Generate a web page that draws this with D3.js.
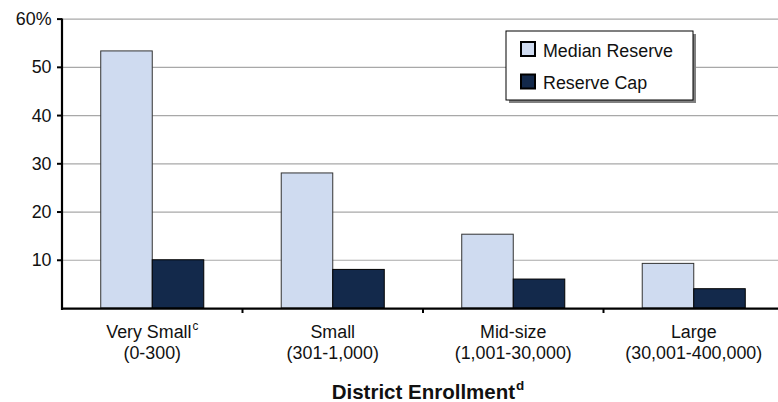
<!DOCTYPE html>
<html>
<head>
<meta charset="utf-8">
<script src="https://cdn.jsdelivr.net/npm/d3@7"></script>
<style>
  html, body { margin: 0; padding: 0; background: #fff; }
  svg { display: block; font-family: "Liberation Sans", Arial, Helvetica, sans-serif; }
</style>
</head>
<body>
<svg id="chart" width="778" height="402"></svg>
<script>
// Enrollment groups (two-line labels, optional superscript note on line 1)
const categories = ["Very Small", "Small", "Mid-size", "Large"];
const categoryNotes = ["c", "", "", ""];
const categoryRanges = ["(0-300)", "(301-1,000)", "(1,001-30,000)", "(30,001-400,000)"];

const seriesNames = ["Median Reserve", "Reserve Cap"];
const medianReserve = [53.3, 28.0, 15.3, 9.25];
const reserveCap = [10, 8, 6, 4];

const yTicks = [10, 20, 30, 40, 50, 60];
const xTitle = "District Enrollment";
const xTitleNote = "d";

const colors = { "Median Reserve": "#cfdbf0", "Reserve Cap": "#13294b" };

const svg = d3.select("#chart");
const W = 778;
const FS = 19;          // label font size
const SQUEEZE = 0.94;   // slightly narrow glyphs

const x = d3.scaleBand().domain(categories).range([62, 784]).paddingInner(0).paddingOuter(0);
const xs = d3.scaleBand().domain(seriesNames).range([0, x.bandwidth()]).paddingInner(0).paddingOuter(0.752);
const y = d3.scaleLinear().domain([0, 60]).range([308, 18.6]);

const rows = categories.map((c, i) => ({
  cat: c,
  values: [
    { name: "Median Reserve", v: medianReserve[i] },
    { name: "Reserve Cap", v: reserveCap[i] }
  ]
}));

// horizontal gridlines
svg.append("g")
  .attr("transform", "translate(62,0)")
  .call(d3.axisLeft(y).tickValues(yTicks).tickSize(-(W - 62)).tickFormat(""))
  .call(g => g.select(".domain").remove())
  .call(g => g.selectAll(".tick line").attr("stroke", "#a8a8a8").attr("stroke-width", 1.2));

// bars
const groups = svg.append("g").selectAll("g").data(rows).join("g")
  .attr("transform", d => `translate(${x(d.cat)},0)`);
groups.selectAll("rect").data(d => d.values).join("rect")
  .attr("x", d => xs(d.name))
  .attr("y", d => y(d.v))
  .attr("width", xs.bandwidth())
  .attr("height", d => y(0) - y(d.v))
  .attr("fill", d => colors[d.name])
  .attr("stroke", d => d.name === "Reserve Cap" ? "#000" : "#333")
  .attr("stroke-width", 1);

// y axis
const yAxis = svg.append("g")
  .attr("transform", "translate(62,0)")
  .call(d3.axisLeft(y).tickValues(yTicks).tickSize(5).tickPadding(6)
    .tickFormat(d => d === 60 ? "60%" : d));
yAxis.select(".domain").attr("stroke", "#000").attr("stroke-width", 2.2)
  .attr("d", `M0,${y(60)}V${y(0) + 2}`);
yAxis.selectAll(".tick line").attr("stroke", "#000").attr("stroke-width", 2);
yAxis.selectAll(".tick text").attr("font-size", FS).attr("fill", "#111")
  .attr("font-family", "'Liberation Sans', Arial, sans-serif")
  .attr("x", null)
  .attr("transform", `translate(-10.5,0) scale(${SQUEEZE},1)`);

// x axis line and group boundary ticks
svg.append("line")
  .attr("x1", 61).attr("x2", W).attr("y1", y(0) + 0.6).attr("y2", y(0) + 0.6)
  .attr("stroke", "#000").attr("stroke-width", 2.2);
svg.append("g").selectAll("line").data(categories.slice(1)).join("line")
  .attr("x1", d => x(d)).attr("x2", d => x(d))
  .attr("y1", y(0)).attr("y2", y(0) + 5)
  .attr("stroke", "#000").attr("stroke-width", 2);

// category labels: name (+ note) on the first line, enrollment range on the second
const labels = svg.append("g").selectAll("g").data(categories).join("g")
  .attr("transform", d => `translate(${x(d) + x.bandwidth() / 2},0)`);
const line1 = labels.append("text")
  .attr("text-anchor", "middle")
  .attr("transform", `translate(0,337.5) scale(${SQUEEZE},1)`)
  .attr("font-size", FS)
  .attr("fill", "#111");
line1.append("tspan").text(d => d);
line1.append("tspan")
  .attr("font-size", 12.5)
  .attr("dx", 1)
  .attr("dy", -7.5)
  .text((d, i) => categoryNotes[i]);
labels.append("text")
  .attr("text-anchor", "middle")
  .attr("transform", `translate(0,358.5) scale(${SQUEEZE},1)`)
  .attr("font-size", FS)
  .attr("fill", "#111")
  .text((d, i) => categoryRanges[i]);

// axis title
const title = svg.append("text")
  .attr("x", 428).attr("y", 398.5)
  .attr("text-anchor", "middle")
  .attr("font-size", 20.5).attr("font-weight", "bold").attr("fill", "#111");
title.append("tspan").text(xTitle);
title.append("tspan").attr("font-size", 13.5).attr("dx", 1).attr("dy", -8.5).text(xTitleNote);

// legend
const legend = svg.append("g").attr("transform", "translate(506,31)");
legend.append("rect").attr("x", 3).attr("y", 3).attr("width", 187).attr("height", 69).attr("fill", "#808080");
legend.append("rect").attr("x", 0).attr("y", 0).attr("width", 187).attr("height", 69)
  .attr("fill", "#fff").attr("stroke", "#000").attr("stroke-width", 1);
const items = legend.selectAll("g.item").data(seriesNames).join("g")
  .attr("class", "item")
  .attr("transform", (d, i) => `translate(15,${11 + i * 32.5})`);
items.append("rect").attr("width", 14).attr("height", 14)
  .attr("fill", d => colors[d]).attr("stroke", "#000").attr("stroke-width", 2);
items.append("text")
  .attr("transform", `translate(22,14.5) scale(${SQUEEZE},1)`)
  .attr("font-size", FS).attr("fill", "#111").text(d => d);
</script>
</body>
</html>
